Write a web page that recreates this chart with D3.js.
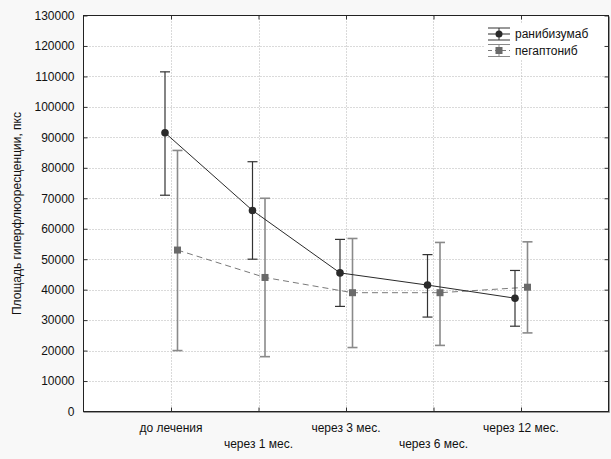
<!DOCTYPE html>
<meta charset="utf-8">
<style>
body { margin: 0; background: #f8f8f8; }
text { font-family: "Liberation Sans", Arial, sans-serif; font-size: 12px; fill: #111; }
.grid line { stroke: #b4b4b4; stroke-dasharray: 1,2; }
</style>
<svg width="611" height="459"></svg>
<script src="https://d3js.org/d3.v7.min.js"></script>
<script>
var categories = ["до лечения", "через 1 мес.", "через 3 мес.", "через 6 мес.", "через 12 мес."];
var yTicks = [0, 10000, 20000, 30000, 40000, 50000, 60000, 70000, 80000, 90000, 100000, 110000, 120000, 130000];

var raniMean = [91500, 66000, 45500, 41500, 37200];
var raniLow  = [71000, 50000, 34500, 31000, 28000];
var raniHigh = [111500, 82000, 56500, 51500, 46300];

var pegaMean = [53000, 44000, 39000, 39000, 40800];
var pegaLow  = [20000, 18000, 21000, 21700, 25800];
var pegaHigh = [85700, 70000, 56800, 55500, 55700];

var seriesNames = ["ранибизумаб", "пегаптониб"];

var svg = d3.select("svg");
var pLeft = 83.5, pRight = 608.5, pTop = 15.5, pBottom = 411.5;

var x = d3.scaleLinear().domain([0, categories.length + 1]).range([pLeft, pRight]);
var y = d3.scaleLinear().domain([0, 130000]).range([pBottom, pTop]);

svg.append("rect").attr("x", pLeft).attr("y", pTop)
  .attr("width", pRight - pLeft).attr("height", pBottom - pTop).attr("fill", "#fff");

// grid
var grid = svg.append("g").attr("class", "grid");
grid.selectAll(".h").data(yTicks.slice(1, -1)).enter().append("line")
  .attr("x1", pLeft).attr("x2", pRight)
  .attr("y1", d => Math.round(y(d)) + 0.5).attr("y2", d => Math.round(y(d)) + 0.5);
grid.selectAll(".v").data(categories).enter().append("line")
  .attr("y1", pTop).attr("y2", pBottom)
  .attr("x1", (d, i) => Math.round(x(i + 1)) + 0.5).attr("x2", (d, i) => Math.round(x(i + 1)) + 0.5);

// axes
var yAxis = d3.axisLeft(y).tickValues(yTicks).tickSize(-4).tickPadding(9).tickFormat(d3.format("d"));
var gy = svg.append("g").attr("transform", "translate(" + pLeft + ",0)").call(yAxis);
gy.select(".domain").remove();
gy.selectAll("line").attr("stroke", "#333");
gy.selectAll("text").style("font-size", "12px").attr("fill", "#111");

var gyr = svg.append("g").attr("transform", "translate(" + pRight + ",0)")
  .call(d3.axisRight(y).tickValues(yTicks).tickSize(-4).tickFormat(""));
gyr.select(".domain").remove();
gyr.selectAll("line").attr("stroke", "#333");

var xAxis = d3.axisBottom(x).tickValues(d3.range(1, categories.length + 1)).tickSize(-4).tickFormat("");
var gx = svg.append("g").attr("transform", "translate(0," + pBottom + ")").call(xAxis);
gx.select(".domain").remove();
gx.selectAll("line").attr("stroke", "#333");
var gxt = svg.append("g").attr("transform", "translate(0," + pTop + ")")
  .call(d3.axisTop(x).tickValues(d3.range(1, categories.length + 1)).tickSize(-4).tickFormat(""));
gxt.select(".domain").remove();
gxt.selectAll("line").attr("stroke", "#333");

svg.selectAll(".xlab").data(categories).enter().append("text")
  .attr("x", (d, i) => x(i + 1))
  .attr("y", (d, i) => i % 2 === 0 ? 432 : 448)
  .attr("text-anchor", "middle")
  .text(d => d);

svg.append("text")
  .attr("transform", "translate(21," + ((pTop + pBottom) / 2) + ") rotate(-90)")
  .attr("text-anchor", "middle")
  .text("Площадь гиперфлюоресценции, пкс");

// frame
svg.append("path").attr("fill", "none").attr("stroke", "#999")
  .attr("d", "M" + (pRight + 1) + "," + (pTop + 1) + "V" + (pBottom + 1) + "H" + (pLeft + 1));
svg.append("rect").attr("x", pLeft).attr("y", pTop)
  .attr("width", pRight - pLeft).attr("height", pBottom - pTop)
  .attr("fill", "none").attr("stroke", "#222");

// series
var idx = d3.range(categories.length);
function drawSeries(mean, low, high, off, opts) {
  var g = svg.append("g");
  var line = d3.line().x(i => x(i + 1) + off).y(i => y(mean[i]));
  g.append("path").datum(idx).attr("d", line)
    .attr("fill", "none").attr("stroke", opts.line).attr("stroke-width", 1)
    .attr("stroke-dasharray", opts.dash);
  idx.forEach(function(i) {
    var cx = x(i + 1) + off;
    g.append("line").attr("x1", cx).attr("x2", cx).attr("y1", y(low[i])).attr("y2", y(high[i]))
      .attr("stroke", opts.bar).attr("stroke-width", opts.barW);
    [low[i], high[i]].forEach(function(v) {
      g.append("line").attr("x1", cx - 5).attr("x2", cx + 5).attr("y1", y(v)).attr("y2", y(v))
        .attr("stroke", opts.bar).attr("stroke-width", opts.barW);
    });
    if (opts.square) {
      g.append("rect").attr("x", cx - 3.5).attr("y", y(mean[i]) - 3.5)
        .attr("width", 7).attr("height", 7).attr("fill", opts.mark);
    } else {
      g.append("circle").attr("cx", cx).attr("cy", y(mean[i])).attr("r", 3.8).attr("fill", opts.mark);
    }
  });
}

drawSeries(pegaMean, pegaLow, pegaHigh, 6.5,
  { line: "#7a7a7a", dash: "6,4", bar: "#8a8a8a", barW: 1.6, mark: "#6a6a6a", square: true });
drawSeries(raniMean, raniLow, raniHigh, -6,
  { line: "#2a2a2a", dash: null, bar: "#333", barW: 1.2, mark: "#2a2a2a", square: false });

// legend
var leg = svg.append("g");
leg.append("rect").attr("x", 484).attr("y", 24).attr("width", 120).attr("height", 35).attr("fill", "#fff");
var legStyles = [
  { line: "#2a2a2a", dash: null, bar: "#333", mark: "#2a2a2a", square: false },
  { line: "#7a7a7a", dash: "4,3", bar: "#8a8a8a", mark: "#6a6a6a", square: true }
];
seriesNames.forEach(function(name, k) {
  var cy = 34 + k * 16.5, cx = 499, s = legStyles[k];
  leg.append("line").attr("x1", cx).attr("x2", cx).attr("y1", cy - 6).attr("y2", cy + 6).attr("stroke", s.bar);
  [cy - 6, cy + 6].forEach(function(v) {
    leg.append("line").attr("x1", cx - 11).attr("x2", cx + 11).attr("y1", v).attr("y2", v).attr("stroke", s.bar);
  });
  leg.append("line").attr("x1", cx - 11).attr("x2", cx + 11).attr("y1", cy).attr("y2", cy)
    .attr("stroke", s.line).attr("stroke-dasharray", s.dash);
  if (s.square) {
    leg.append("rect").attr("x", cx - 3.5).attr("y", cy - 3.5).attr("width", 7).attr("height", 7).attr("fill", s.mark);
  } else {
    leg.append("circle").attr("cx", cx).attr("cy", cy).attr("r", 3.5).attr("fill", s.mark);
  }
  leg.append("text").attr("x", 515).attr("y", cy + 4).text(name);
});
</script>
